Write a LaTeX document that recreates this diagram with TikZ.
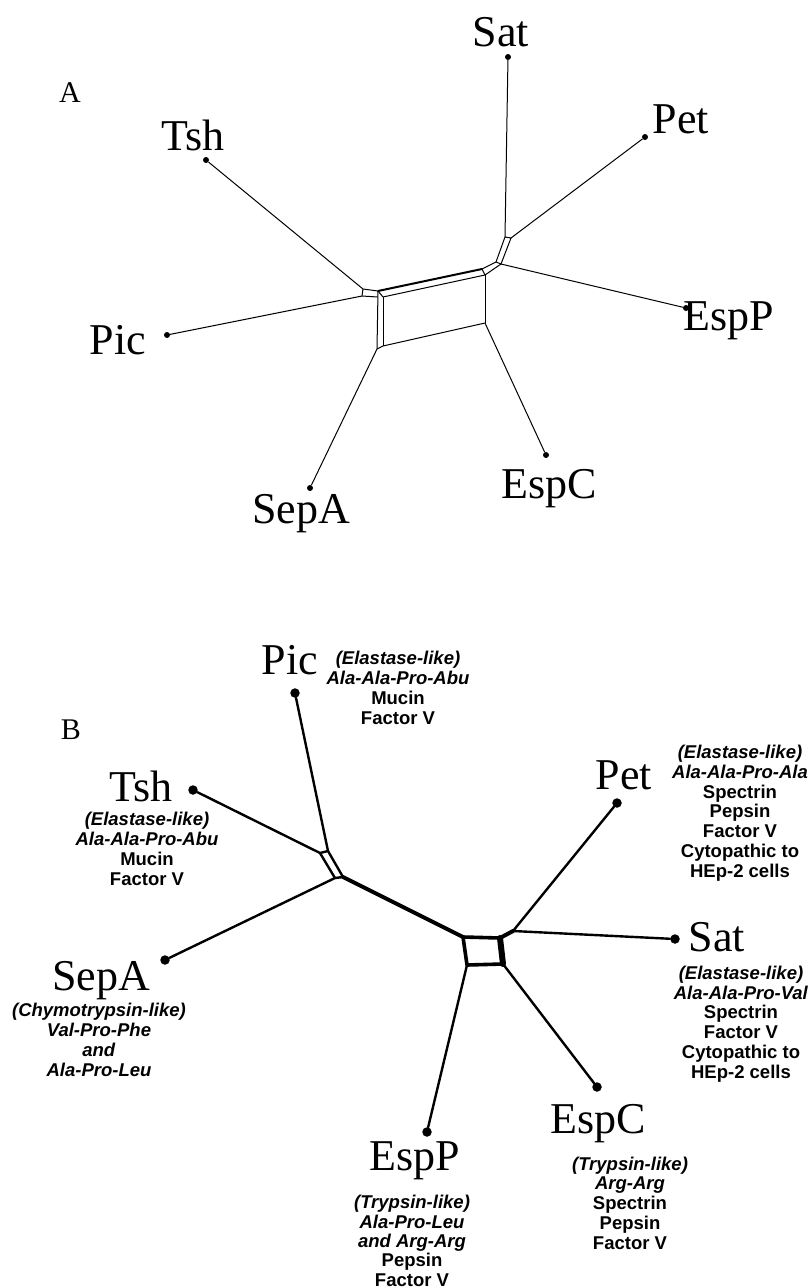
\documentclass[tikz,border=0pt]{standalone}
\usepackage{fontspec}
\setmainfont{Liberation Serif}
\newfontfamily\annfont{Liberation Sans}
\begin{document}
\begin{tikzpicture}[x=1pt,y=-1pt,
  lab/.style={font=\fontsize{44}{44}\selectfont, anchor=base, inner sep=0pt},
  panel/.style={font=\fontsize{30}{30}\selectfont, anchor=base, inner sep=0pt},
  ann/.style={font=\annfont\bfseries\fontsize{18.5}{19.7}\selectfont, align=center, anchor=base, inner sep=0pt},
  dotA/.style={circle, fill=black, inner sep=0pt, minimum size=6pt},
  dotB/.style={circle, fill=black, inner sep=0pt, minimum size=9.5pt},
  edgeA/.style={line width=1pt, line join=round},
  thickA/.style={line width=2pt, line join=round},
  edgeB/.style={line width=2.4pt, line cap=round, line join=round},
  boxB/.style={line width=3.6pt, line cap=round, line join=round},
]
\useasboundingbox (0,0) rectangle (811,1288);

% ================= Panel A =================
\node[panel] (labA) at (70,102) {A};

\node[dotA] (SatA)  at (508,57) {};
\node[dotA] (PetA)  at (645,137) {};
\node[dotA] (TshA)  at (206,160) {};
\node[dotA] (PicA)  at (167,335) {};
\node[dotA] (EspPA) at (686,308) {};
\node[dotA] (EspCA) at (546,455) {};
\node[dotA] (SepAA) at (310,488) {};

\node[lab] (tSatA)  at (501,46)  {Sat};
\node[lab] (tPetA)  at (681,133) {Pet};
\node[lab] (tTshA)  at (193,150) {Tsh};
\node[lab] (tPicA)  at (118,354) {Pic};
\node[lab] (tEspPA) at (729,330) {EspP};
\node[lab] (tEspCA) at (549,498) {EspC};
\node[lab] (tSepAA) at (301,523) {SepA};

% internal points of the network
\coordinate (u1) at (505,237);
\coordinate (u2) at (511,238);
\coordinate (u3) at (501,264);
\coordinate (u4) at (496,262);
\coordinate (v1) at (482,269);
\coordinate (v2) at (485,275);
\coordinate (rbr) at (485,323);
\coordinate (w1) at (378,291);
\coordinate (w2) at (383,297);
\coordinate (w3) at (383,346);
\coordinate (w4) at (377,349);
\coordinate (t1) at (363,289);
\coordinate (t2) at (362,296);
\coordinate (t3) at (377.7,297);

\draw[edgeA] (SatA) -- (u1);
\draw[edgeA] (PetA) -- (u2);
\draw[edgeA] (u1) -- (u2) -- (u3) -- (u4) -- cycle;
\draw[edgeA] (u3) -- (EspPA);
\draw[edgeA] (u4) -- (v1);
\draw[edgeA] (u3) -- (v2);
\draw[edgeA] (v1) -- (v2);
\draw[thickA] (v1) -- (w1);
\draw[edgeA] (v2) -- (w2);
\draw[edgeA] (v2) -- (rbr);
\draw[edgeA] (rbr) -- (w3) -- (w4);
\draw[edgeA] (w1) -- (w4);
\draw[edgeA] (w2) -- (w3);
\draw[edgeA] (w1) -- (w2);
\draw[edgeA] (t1) -- (w1);
\draw[edgeA] (t2) -- (t3);
\draw[edgeA] (t1) -- (t2);
\draw[edgeA] (TshA) -- (t1);
\draw[edgeA] (PicA) -- (t2);
\draw[edgeA] (w4) -- (SepAA);
\draw[edgeA] (rbr) -- (EspCA);

% ================= Panel B =================
\node[panel] (labB) at (71,739) {B};

\node[dotB] (PicB)  at (295,693) {};
\node[dotB] (TshB)  at (193,790) {};
\node[dotB] (SepAB) at (165,960) {};
\node[dotB] (PetB)  at (617,803) {};
\node[dotB] (SatB)  at (675,939) {};
\node[dotB] (EspCB) at (597,1087) {};
\node[dotB] (EspPB) at (427,1132) {};

\node[lab] (tPicB)  at (290,674)  {Pic};
\node[lab] (tPetB)  at (624,789)  {Pet};
\node[lab] (tTshB)  at (141,801)  {Tsh};
\node[lab] (tSepAB) at (101,990)  {SepA};
\node[lab] (tSatB)  at (717,951)  {Sat};
\node[lab] (tEspCB) at (598,1133) {EspC};
\node[lab] (tEspPB) at (415,1170) {EspP};

% annotations (anchor base = baseline of the last line)
\node[ann] (aPic) at (398,724) {\textit{(Elastase-like)}\\\textit{Ala-Ala-Pro-Abu}\\Mucin\\Factor V};
\node[ann] (aPet) at (740,877) {\textit{(Elastase-like)}\\\textit{Ala-Ala-Pro-Ala}\\Spectrin\\Pepsin\\Factor V\\Cytopathic to\\HEp-2 cells};
\node[ann] (aTsh) at (147,885) {\textit{(Elastase-like)}\\\textit{Ala-Ala-Pro-Abu}\\Mucin\\Factor V};
\node[ann] (aSepA) at (99,1076) {\textit{(Chymotrypsin-like)}\\\textit{Val-Pro-Phe}\\\textit{and}\\\textit{Ala-Pro-Leu}};
\node[ann] (aSat) at (741,1078) {\textit{(Elastase-like)}\\\textit{Ala-Ala-Pro-Val}\\Spectrin\\Factor V\\Cytopathic to\\HEp-2 cells};
\node[ann] (aEspC) at (630,1249) {\textit{(Trypsin-like)}\\\textit{Arg-Arg}\\Spectrin\\Pepsin\\Factor V};
\node[ann, font=\annfont\bfseries\fontsize{18.5}{19.3}\selectfont] (aEspP) at (412,1286) {\textit{(Trypsin-like)}\\\textit{Ala-Pro-Leu}\\\textit{and Arg-Arg}\\Pepsin\\Factor V};

% internal points
\coordinate (b1) at (320,853);
\coordinate (b2) at (328,851);
\coordinate (b3) at (343,877);
\coordinate (b4) at (335,878);
\coordinate (c1) at (463,937);
\coordinate (c2) at (500,938);
\coordinate (c3) at (503,964);
\coordinate (c4) at (467,965);
\coordinate (d1) at (513,931);

\draw[edgeB] (b1) -- (b2) -- (b3) -- (b4) -- cycle;
\draw[edgeB] (TshB) -- (b1);
\draw[edgeB] (PicB) -- (b2);
\draw[edgeB] (SepAB) -- (b4);
\draw[line width=4pt, line cap=round] (b3) -- (c1);
\draw[boxB] (c2) -- (c1) -- (c4) -- (c3);
\draw[line width=6pt, line cap=round] (c2) -- (c3);
\draw[line width=4pt, line cap=round] (c2) -- (d1);
\draw[edgeB] (d1) -- (PetB);
\draw[edgeB] (d1) -- (SatB);
\draw[edgeB] (c3) -- (EspCB);
\draw[edgeB] (c4) -- (EspPB);
\end{tikzpicture}
\end{document}
